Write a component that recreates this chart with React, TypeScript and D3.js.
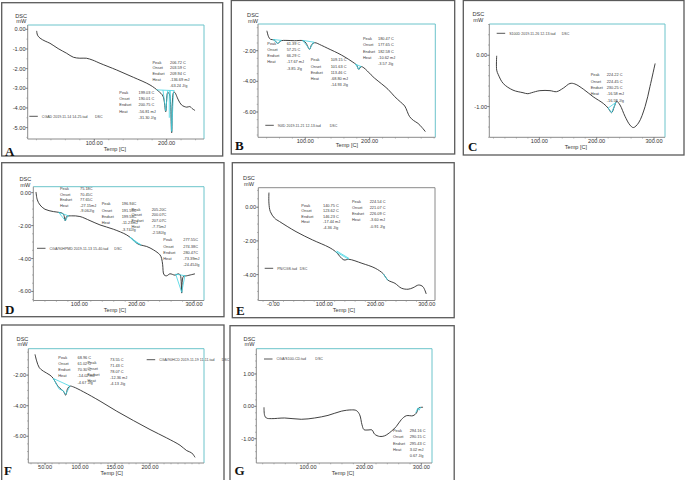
import React from 'react';
import * as d3 from 'd3';

// ---------- curve data (Temp [C], DSC [mW]) ----------
const aTemp = [20.3, 21.5, 25, 32, 38.7, 50, 61.8, 71, 80, 89, 98, 108, 131, 154, 177, 188.5, 195, 198.8, 201.5, 203.7, 207, 209.5, 211, 216.2, 220.7, 227.8, 232, 236, 239.3];
const aDsc = [-0.08, -0.3, -0.45, -0.6, -0.71, -0.98, -1.22, -1.42, -1.47, -1.47, -1.57, -1.73, -2.07, -2.44, -2.83, -3.14, -3.4, -4.19, -3.22, -3.28, -5.26, -3.22, -3.2, -3.59, -3.85, -3.96, -3.93, -4.05, -4.13];

const bTemp = [40.4, 43, 46, 52, 57, 62.7, 70, 83.4, 96.4, 101, 106.7, 110, 114.5, 125, 135, 156, 176.7, 180, 183, 187, 207.8, 228.5, 238.9, 248, 254.4, 262, 268, 275, 281, 286.5];
const bDsc = [-0.7, -1.09, -1.26, -1.3, -1.52, -1.35, -1.33, -1.35, -1.35, -1.5, -1.91, -1.6, -1.48, -1.65, -1.85, -2.28, -2.83, -2.95, -3.22, -3.04, -3.8, -4.52, -5.0, -5.35, -5.61, -6.3, -6.55, -6.74, -7.0, -7.28];

const cTemp = [25.6, 25.6, 28.5, 37, 54, 71.5, 80, 86.6, 101, 118.6, 130, 141.9, 153.5, 162, 176.7, 194, 211.6, 220, 226, 230.8, 235, 240.7, 249.4, 258, 264, 273, 284.5, 293, 302];
const cDsc = [-0.01, -0.29, -0.38, -0.55, -0.68, -0.73, -0.75, -0.73, -0.69, -0.69, -0.71, -0.64, -0.55, -0.56, -0.66, -0.81, -0.94, -1.03, -1.12, -1.0, -0.9, -0.97, -1.19, -1.36, -1.41, -1.32, -1.0, -0.61, -0.16];

const dTemp = [24.4, 26.7, 31.4, 40, 54.7, 66.3, 72, 75.6, 77.9, 86.6, 101, 118.6, 136, 159.3, 182.6, 194.2, 200, 205.8, 217.4, 229, 240.7, 243.5, 245.3, 247.7, 252.3, 258, 266.9, 272.7, 276, 278.5, 281.4, 287.2, 301.7];
const dDsc = [0.04, -0.44, -0.75, -1.01, -1.15, -1.21, -1.29, -1.72, -1.45, -1.41, -1.45, -1.7, -1.96, -2.22, -2.57, -2.87, -3.07, -3.17, -3.27, -3.47, -3.78, -4.0, -4.38, -4.99, -5.05, -4.93, -5.01, -4.93, -5.0, -6.1, -5.09, -5.05, -4.93];

const eTemp = [-8.5, -8.5, -5.8, 2.5, 12.2, 44.5, 76.6, 108.9, 121.9, 138, 147.6, 173.3, 199.2, 215.3, 223.6, 237.9, 250.7, 263.6, 273.3, 284.3, 292.6, 299];
const eDsc = [0.87, 0.24, -0.26, -0.65, -0.85, -1.45, -1.94, -2.38, -2.64, -3.13, -3.09, -3.33, -3.62, -3.96, -4.32, -4.52, -4.81, -4.87, -4.78, -4.62, -4.72, -5.15];

const fTemp = [35.7, 38.1, 41.9, 47.6, 57.1, 61.9, 66.7, 71.4, 76.2, 79.5, 82.4, 85.7, 90.5, 104.8, 128.6, 152.4, 176.2, 200, 223.8, 242.9, 252.4, 259.5, 264.3];
const fDsc = [-0.64, -1.08, -1.52, -1.74, -2.0, -2.22, -2.61, -2.87, -3.05, -3.31, -2.87, -2.72, -2.77, -3.09, -3.7, -4.36, -4.97, -5.56, -6.11, -6.59, -6.94, -7.09, -7.38];

const gTemp = [22.4, 23.5, 26.5, 35.3, 58.8, 88.2, 111.8, 135.3, 158.8, 176.5, 185.3, 191.2, 195.3, 198.8, 205.9, 212.9, 217.6, 226.5, 235.3, 247, 255.9, 264.7, 273.5, 285.3, 291.2, 295.3, 303];
const gDsc = [-0.03, -0.28, -0.36, -0.38, -0.36, -0.4, -0.36, -0.28, -0.15, -0.11, -0.13, -0.26, -0.57, -0.72, -0.73, -0.73, -0.86, -0.93, -0.91, -0.77, -0.62, -0.41, -0.29, -0.29, -0.21, -0.05, -0.03];

// ---------- peak analysis marks (Temp, DSC) ----------
const aPeakLines: [number, number][][] = [
  [[186, -3.08], [211, -3.12]],
  [[195, -3.1], [198.8, -4.15], [201.5, -3.12]],
  [[203.7, -3.12], [203.7, -4.5]],
  [[205, -3.12], [207, -5.2], [209.5, -3.15]],
];
const bPeakLines: [number, number][][] = [
  [[50, -1.27], [57, -1.52], [62.7, -1.33]], [[50, -1.27], [63, -1.33]],
  [[96, -1.33], [106.7, -1.91], [113, -1.45]], [[96, -1.33], [114, -1.45]],
  [[178, -2.88], [183, -3.22], [186, -3.0]], [[178, -2.88], [187, -3.04]],
];
const cPeakLines: [number, number][][] = [[[220, -1.03], [226, -1.12], [233.5, -0.92], [220, -1.03]]];
const dPeakLines: [number, number][][] = [
  [[64, -1.2], [75.6, -1.7], [80, -1.43]], [[64, -1.2], [82, -1.42]],
  [[188, -2.7], [196, -2.98], [207, -3.15]], [[188, -2.7], [208, -3.2]],
  [[268, -4.95], [278.5, -6.05], [284, -5.05]], [[268, -4.95], [285, -5.05]],
];
const ePeakLines: [number, number][][] = [
  [[121.9, -2.64], [147.6, -3.09]], [[124, -2.6], [148, -3.04]],
  [[215, -3.96], [224, -4.35]],
];
const fPeakLines: [number, number][][] = [
  [[61.9, -2.22], [70, -2.9], [76, -3.02], [79.5, -3.25], [85.7, -2.72]],
  [[61.9, -2.22], [85.7, -2.72]],
];
const gPeakLines: [number, number][][] = [[[290, -0.2], [294, -0.05], [296, -0.12], [299, -0.02]]];

// ---------- tick labels ----------
const aXTicks = [100, 200];
const aYTicks = [0, -1, -2, -3, -4, -5];
const bXTicks = [100, 200];
const bYTicks = [-2, -4, -6];
const cXTicks = [100, 200, 300];
const cYTicks = [0, -1];
const dXTicks = [100, 200, 300];
const dYTicks = [0, -2, -4, -6];
const eXTicks = [0, 100, 200, 300];
const eYTicks = [0, -2, -4];
const fXTicks = [50, 100, 150, 200];
const fYTicks = [-2, -4, -6];
const gXTicks = [100, 200, 300];
const gYTicks = [1, 0, -1];

// ---------- legends ----------
const legendFiles = [
  'CGAD 2019-11-14 14-25.tad',
  '90ID 2019-11-21 12-13.tad',
  'S100D 2019-11-26 12-13.tad',
  'CGA/90HPMD 2019-11-13 15-40.tad',
  'PN/CGS.tad',
  'CGA/90HCD 2019-11-19 11-11.tad',
  'CGA/S100-CD.tad',
];
const panelLetters = ['A', 'B', 'C', 'D', 'E', 'F', 'G'];

// ---------- peak annotation texts ----------
const peakLabels = ['Peak', 'Onset', 'Endset', 'Heat'];
const aPeak1 = ['206.72 C', '203.59 C', '209.94 C', '-136.69 mJ', '-63.24 J/g'];
const aPeak2 = ['199.03 C', '190.01 C', '200.75 C', '-56.81 mJ', '-31.30 J/g'];
const bPeak1 = ['61.39 C', '57.25 C', '66.29 C', '-17.67 mJ', '-3.85 J/g'];
const bPeak2 = ['109.15 C', '101.63 C', '113.46 C', '-68.80 mJ', '-14.93 J/g'];
const bPeak3 = ['180.47 C', '177.65 C', '182.58 C', '-10.62 mJ', '-3.57 J/g'];
const cPeak1 = ['224.22 C', '224.45 C', '230.25 C', '-16.58 mJ', '-16.58 J/g'];
const dPeak1 = ['75.18C', '70.45C', '77.65C', '-27.15mJ', '-9.06J/g'];
const dPeak2 = ['196.94C', '191.59C', '199.58C', '-11.23mJ', '-3.74J/g'];
const dPeak3 = ['205.20C', '200.07C', '207.07C', '-7.75mJ', '-2.58J/g'];
const dPeak4 = ['277.55C', '274.38C', '280.47C', '-73.39mJ', '-24.45J/g'];
const ePeak1 = ['140.75 C', '123.62 C', '146.23 C', '-17.44 mJ', '-4.36 J/g'];
const ePeak2 = ['224.54 C', '221.07 C', '226.09 C', '-3.60 mJ', '-0.91 J/g'];
const fPeak1 = ['68.96 C', '61.02 C', '70.30 C', '-14.02 mJ', '-4.67 J/g'];
const fPeak2 = ['73.55 C', '71.43 C', '78.07 C', '-12.36 mJ', '-4.13 J/g'];
const gPeak1 = ['294.16 C', '290.15 C', '295.43 C', '3.02 mJ', '0.67 J/g'];

type Block = { lx: number; vx: number; y: number; dy: number; values: string[]; ly?: number };
type Cfg = {
  box: [number, number, number, number];
  plot: { l: number; t: number; r: number; b: number };
  xDomain: [number, number];
  yDomain: [number, number];
  xTicks: number[];
  yTicks: number[];
  xMinor: number;
  yMinor: number;
  temps: number[];
  dsc: number[];
  peaks: [number, number][][];
  blocks: Block[];
  legend: { x0: number; y: number; dscX: number };
  dscLabel: [number, number];
  tempLabel: [number, number];
  letterPos: [number, number];
  tealFrame: boolean;
  xTickFmt?: (v: number) => string;
};

const panels: Cfg[] = [
  {
    box: [1.7, 2.7, 222.7, 156], plot: { l: 27.7, t: 25, r: 204, b: 139 },
    xDomain: [7.9, 251.7], yDomain: [-5.58, 0.22], xTicks: aXTicks, yTicks: aYTicks, xMinor: 20, yMinor: 0.5,
    temps: aTemp, dsc: aDsc, peaks: aPeakLines,
    blocks: [
      { lx: 152.5, vx: 170, y: 62.3, dy: 5.7, values: aPeak1 },
      { lx: 119.3, vx: 138.5, y: 92.5, dy: 6.2, values: aPeak2 },
    ],
    legend: { x0: 29.3, y: 116.3, dscX: 95 }, dscLabel: [21.2, 15.7], tempLabel: [115, 149], letterPos: [5, 155.5], tealFrame: true,
  },
  {
    box: [231.3, 0.5, 454.7, 154], plot: { l: 258, t: 24, r: 435.3, b: 137.3 },
    xDomain: [26.6, 301.9], yDomain: [-7.65, -0.26], xTicks: bXTicks, yTicks: bYTicks, xMinor: 20, yMinor: 0.5,
    temps: bTemp, dsc: bDsc, peaks: bPeakLines,
    blocks: [
      { lx: 267.3, vx: 286.7, y: 43.3, dy: 6.2, values: bPeak1 },
      { lx: 310.7, vx: 330.7, y: 60, dy: 6.2, values: bPeak2 },
      { lx: 363, vx: 378, y: 38.7, dy: 6.3, values: bPeak3 },
    ],
    legend: { x0: 265.3, y: 125.3, dscX: 329.7 }, dscLabel: [253, 15], tempLabel: [347, 145], letterPos: [235, 149.5], tealFrame: true,
  },
  {
    box: [463.3, 0.5, 684, 155], plot: { l: 489.3, t: 24, r: 665, b: 137.3 },
    xDomain: [12.7, 319.2], yDomain: [-1.6, 0.61], xTicks: cXTicks, yTicks: cYTicks, xMinor: 20, yMinor: 0.2,
    temps: cTemp, dsc: cDsc, peaks: cPeakLines,
    blocks: [{ lx: 590.7, vx: 606.7, y: 75, dy: 6.3, values: cPeak1 }],
    legend: { x0: 496.7, y: 33.3, dscX: 561.7 }, dscLabel: [478.3, 14], tempLabel: [576, 146.7], letterPos: [468, 151], tealFrame: true,
  },
  {
    box: [1.7, 162.7, 224, 316.7], plot: { l: 33.3, t: 186.7, r: 204, b: 300.5 },
    xDomain: [19.7, 317.4], yDomain: [-6.55, 0.36], xTicks: dXTicks, yTicks: dYTicks, xMinor: 20, yMinor: 0.5,
    temps: dTemp, dsc: dDsc, peaks: dPeakLines,
    blocks: [
      { lx: 60, vx: 80, y: 189, dy: 5.5, values: dPeak1 },
      { lx: 101.7, vx: 121.7, y: 204, dy: 6.3, values: dPeak2 },
      { lx: 131.5, vx: 151.7, y: 209.3, dy: 5.7, values: dPeak3 },
      { lx: 163.3, vx: 183.3, y: 240, dy: 6.1, values: dPeak4 },
    ],
    legend: { x0: 37, y: 248.3, dscX: 114.3 }, dscLabel: [25.3, 179], tempLabel: [115, 310], letterPos: [5, 313.5], tealFrame: true,
  },
  {
    box: [232.3, 162.7, 454.2, 317.7], plot: { l: 258.3, t: 187.7, r: 435, b: 300.5 },
    xDomain: [-29.3, 316.2], yDomain: [-5.54, 1.16], xTicks: eXTicks, yTicks: eYTicks, xMinor: 20, yMinor: 0.5,
    temps: eTemp, dsc: eDsc, peaks: ePeakLines,
    blocks: [
      { lx: 301.3, vx: 323, y: 205.3, dy: 5.5, values: ePeak1 },
      { lx: 352, vx: 369.7, y: 201.7, dy: 6.1, values: ePeak2 },
    ],
    legend: { x0: 264.7, y: 268.3, dscX: 299.7 }, dscLabel: [249, 178.3], tempLabel: [344, 310], letterPos: [236, 314.5], tealFrame: false,
    xTickFmt: (v: number) => (v === 0 ? '-0.00' : v.toFixed(2)),
  },
  {
    box: [1.7, 325, 224, 481], plot: { l: 28.3, t: 348.7, r: 204, b: 463 },
    xDomain: [26.1, 277.1], yDomain: [-7.75, -0.27], xTicks: fXTicks, yTicks: fYTicks, xMinor: 10, yMinor: 0.5,
    temps: fTemp, dsc: fDsc, peaks: fPeakLines,
    blocks: [
      { lx: 58.3, vx: 77.5, y: 357.3, dy: 6.2, values: fPeak1 },
      { lx: 87.5, vx: 110, y: 359.7, dy: 6.0, values: fPeak2, ly: 362.3 },
    ],
    legend: { x0: 146.7, y: 359.7, dscX: 221.7 }, dscLabel: [22.5, 338.7], tempLabel: [111.7, 473], letterPos: [4, 474.7], tealFrame: true,
  },
  {
    box: [230, 325.7, 454.2, 481], plot: { l: 256.3, t: 348.7, r: 432, b: 463 },
    xDomain: [8.8, 318.8], yDomain: [-1.75, 1.78], xTicks: gXTicks, yTicks: gYTicks, xMinor: 20, yMinor: 0.2,
    temps: gTemp, dsc: gDsc, peaks: gPeakLines,
    blocks: [{ lx: 393, vx: 409.7, y: 430.7, dy: 6.2, values: gPeak1 }],
    legend: { x0: 264, y: 359, dscX: 315.3 }, dscLabel: [249.5, 338.7], tempLabel: [343, 473], letterPos: [234.5, 474.7], tealFrame: true,
  },
];

const FONT = 'Liberation Sans, Arial, sans-serif';
const TEAL = '#6cc4cb';
const PEAK = '#3fd3e2';
const GRAY = '#8a8a8a';
const CURVE = '#2b2b2b';

function Panel({ cfg, idx }: { cfg: Cfg; idx: number }) {
  const { plot } = cfg;
  const x = d3.scaleLinear().domain(cfg.xDomain).range([plot.l, plot.r]);
  const y = d3.scaleLinear().domain(cfg.yDomain).range([plot.b, plot.t]);
  const line = d3
    .line<[number, number]>()
    .x((d) => x(d[0]))
    .y((d) => y(d[1]))
    .curve(d3.curveCatmullRom.alpha(0.5));
  const straight = d3
    .line<[number, number]>()
    .x((d) => x(d[0]))
    .y((d) => y(d[1]));
  const pts: [number, number][] = cfg.temps.map((t, i) => [t, cfg.dsc[i]]);
  const fmt = cfg.xTickFmt || ((v: number) => v.toFixed(2));
  const xMinorTicks = d3.range(Math.ceil(cfg.xDomain[0] / cfg.xMinor) * cfg.xMinor, cfg.xDomain[1], cfg.xMinor);
  const yMinorTicks = d3.range(Math.ceil(cfg.yDomain[0] / cfg.yMinor) * cfg.yMinor, cfg.yDomain[1], cfg.yMinor);
  const [bx0, by0, bx1, by1] = cfg.box;
  const frameColor = cfg.tealFrame ? TEAL : GRAY;
  return (
    <g>
      <rect x={bx0} y={by0} width={bx1 - bx0} height={by1 - by0} fill="none" stroke="#5a5a5a" strokeWidth={1.3} />
      <line x1={plot.l} y1={plot.t} x2={plot.r} y2={plot.t} stroke={frameColor} strokeWidth={1} />
      <line x1={plot.r} y1={plot.t} x2={plot.r} y2={plot.b} stroke={frameColor} strokeWidth={1} />
      <line x1={plot.l} y1={plot.t} x2={plot.l} y2={plot.b} stroke={GRAY} strokeWidth={1} />
      <line x1={plot.l} y1={plot.b} x2={plot.r} y2={plot.b} stroke={GRAY} strokeWidth={1} />
      {xMinorTicks.map((v, i) => (
        <line key={'xm' + i} x1={x(v)} x2={x(v)} y1={plot.b} y2={plot.b + 1.3} stroke={GRAY} strokeWidth={0.6} />
      ))}
      {yMinorTicks.map((v, i) => (
        <line key={'ym' + i} x1={plot.l - 1.3} x2={plot.l} y1={y(v)} y2={y(v)} stroke={GRAY} strokeWidth={0.6} />
      ))}
      {cfg.xTicks.map((v) => (
        <g key={'xt' + v}>
          <line x1={x(v)} x2={x(v)} y1={plot.b} y2={plot.b + 2.2} stroke="#666" strokeWidth={0.7} />
          <text x={x(v)} y={plot.b + 5.5} fontSize={5.6} fontFamily={FONT} fill="#333" textAnchor="middle">
            {fmt(v)}
          </text>
        </g>
      ))}
      {cfg.yTicks.map((v) => (
        <g key={'yt' + v}>
          <line x1={plot.l - 2.2} x2={plot.l} y1={y(v)} y2={y(v)} stroke="#666" strokeWidth={0.7} />
          <text x={plot.l - 2.2} y={y(v) + 2} fontSize={5.6} fontFamily={FONT} fill="#333" textAnchor="end">
            {v.toFixed(2)}
          </text>
        </g>
      ))}
      <text x={cfg.dscLabel[0]} y={cfg.dscLabel[1] + 2} fontSize={5.6} fontFamily={FONT} fill="#333" textAnchor="middle">DSC</text>
      <text x={cfg.dscLabel[0]} y={cfg.dscLabel[1] + 7.5} fontSize={5.6} fontFamily={FONT} fill="#333" textAnchor="middle">mW</text>
      <text x={cfg.tempLabel[0]} y={cfg.tempLabel[1] + 2} fontSize={5.6} fontFamily={FONT} fill="#333" textAnchor="middle">
        Temp  [C]
      </text>
      <line x1={cfg.legend.x0} x2={cfg.legend.x0 + 8.5} y1={cfg.legend.y} y2={cfg.legend.y} stroke="#444" strokeWidth={0.9} />
      <text x={cfg.legend.x0 + 12.5} y={cfg.legend.y + 1.3} fontSize={3.6} fontFamily={FONT} fill="#444">
        {legendFiles[idx]}
      </text>
      <text x={cfg.legend.dscX} y={cfg.legend.y + 1.3} fontSize={3.6} fontFamily={FONT} fill="#444">DSC</text>
      {cfg.blocks.map((b, bi) => (
        <g key={'b' + bi} fontSize={3.9} fontFamily={FONT} fill="#3a3a3a">
          {peakLabels.map((l, i) => (
            <text key={'l' + i} x={b.lx} y={(b.ly ?? b.y) + i * b.dy + 1.4}>{l}</text>
          ))}
          {b.values.map((v, i) => (
            <text key={'v' + i} x={b.vx} y={b.y + i * b.dy + 1.4}>{v}</text>
          ))}
        </g>
      ))}
      <path d={line(pts) || ''} fill="none" stroke={CURVE} strokeWidth={0.9} />
      {cfg.peaks.map((p, i) => (
        <path key={'p' + i} d={straight(p) || ''} fill="none" stroke={PEAK} strokeWidth={0.8} />
      ))}
      <text x={cfg.letterPos[0]} y={cfg.letterPos[1]} fontSize={13} fontWeight="bold" fontFamily="Liberation Serif, Times New Roman, serif" fill="#111">
        {panelLetters[idx]}
      </text>
    </g>
  );
}

export default function App() {
  return (
    <svg width={685} height={480} style={{ position: 'absolute', left: 0, top: 0, background: '#fff' }}>
      <rect x={0} y={0} width={685} height={480} fill="#fff" />
      {panels.map((p, i) => (
        <Panel key={i} cfg={p} idx={i} />
      ))}
    </svg>
  );
}
